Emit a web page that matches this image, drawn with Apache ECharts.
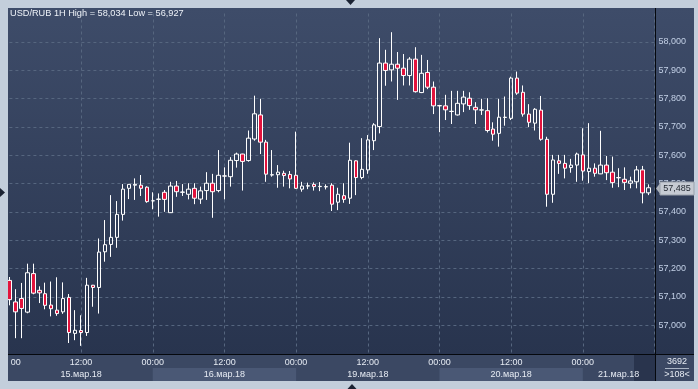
<!DOCTYPE html>
<html>
<head>
<meta charset="utf-8">
<script src="https://cdn.jsdelivr.net/npm/echarts@6/dist/echarts.min.js"></script>
<style>
html,body{margin:0;padding:0;background:#c3cedb;overflow:hidden;}
#c{width:698px;height:389px;}
</style>
</head>
<body>
<div id="c"></div>
<script>
// ---- data ----
const symbolName = 'USD/RUB 1H';
const dayLabels = ['15.мар.18', '16.мар.18', '19.мар.18', '20.мар.18', '21.мар.18'];
const hoursPerDay = [24, 24, 24, 24, 12];
const totalBars = 3692;

const open = [
57.158,57.082,57.094,57.046,57.182,57.123,57.111,57.071,57.053,57.047,
57.098,56.971,56.981,56.974,57.141,57.133,57.259,57.285,57.310,57.391,
57.483,57.494,57.494,57.487,57.439,57.444,57.469,57.397,57.491,57.469,
57.462,57.483,57.445,57.475,57.501,57.475,57.526,57.524,57.581,57.604,
57.581,57.657,57.742,57.646,57.530,57.531,57.536,57.532,57.529,57.480,
57.491,57.497,57.489,57.488,57.494,57.434,57.457,57.448,57.580,57.521,
57.548,57.651,57.701,57.925,57.901,57.921,57.907,57.881,57.939,57.821,
57.892,57.840,57.774,57.774,57.754,57.742,57.781,57.801,57.769,57.759,
57.757,57.692,57.677,57.733,57.730,57.872,57.822,57.745,57.713,57.759,
57.656,57.462,57.580,57.571,57.556,57.565,57.601,57.542,57.554,57.534,
57.565,57.540,57.520,57.515,57.501,57.506,57.548,57.467];
const high = [
57.170,57.127,57.149,57.217,57.217,57.137,57.150,57.154,57.169,57.151,
57.110,57.053,57.035,57.167,57.142,57.306,57.371,57.459,57.438,57.498,
57.498,57.518,57.530,57.490,57.469,57.465,57.477,57.506,57.509,57.498,
57.501,57.501,57.489,57.540,57.534,57.618,57.557,57.593,57.609,57.605,
57.687,57.810,57.799,57.654,57.618,57.565,57.545,57.544,57.683,57.506,
57.503,57.504,57.505,57.497,57.501,57.485,57.501,57.644,57.582,57.660,
57.671,57.713,58.013,57.972,58.034,57.964,57.957,57.946,57.981,57.954,
57.936,57.860,57.776,57.813,57.827,57.827,57.827,57.822,57.787,57.799,
57.801,57.716,57.799,57.807,57.877,57.895,57.846,57.780,57.766,57.809,
57.665,57.601,57.601,57.601,57.587,57.609,57.695,57.713,57.571,57.686,
57.597,57.595,57.554,57.557,57.524,57.562,57.562,57.497];
const low = [
57.070,56.954,56.954,57.042,57.109,57.078,57.056,57.031,57.033,57.040,
56.937,56.947,56.927,56.962,57.065,57.041,57.224,57.241,57.273,57.369,
57.445,57.442,57.456,57.432,57.409,57.383,57.400,57.396,57.453,57.456,
57.444,57.427,57.428,57.442,57.379,57.469,57.444,57.489,57.556,57.475,
57.577,57.651,57.604,57.506,57.524,57.485,57.489,57.483,57.481,57.471,
57.480,57.475,57.473,57.479,57.403,57.406,57.432,57.428,57.459,57.515,
57.534,57.618,57.677,57.845,57.860,57.795,57.846,57.846,57.821,57.819,
57.833,57.745,57.681,57.724,57.710,57.740,57.752,57.760,57.710,57.742,
57.680,57.651,57.630,57.704,57.724,57.813,57.736,57.699,57.687,57.651,
57.418,57.432,57.534,57.518,57.538,57.506,57.510,57.501,57.524,57.533,
57.512,57.485,57.487,57.477,57.483,57.483,57.430,57.459];
const close = [
57.090,57.047,57.059,57.185,57.113,57.114,57.070,57.058,57.041,57.094,
56.974,56.982,56.974,57.141,57.133,57.258,57.284,57.310,57.391,57.480,
57.497,57.497,57.483,57.436,57.439,57.445,57.444,57.491,57.471,57.470,
57.480,57.448,57.474,57.501,57.471,57.529,57.527,57.582,57.604,57.578,
57.660,57.746,57.646,57.533,57.531,57.540,57.528,57.516,57.483,57.491,
57.492,57.489,57.490,57.489,57.427,57.462,57.444,57.582,57.521,57.550,
57.654,57.707,57.925,57.899,57.921,57.907,57.881,57.939,57.824,57.889,
57.840,57.774,57.775,57.760,57.755,57.783,57.805,57.775,57.760,57.760,
57.687,57.674,57.734,57.734,57.872,57.819,57.745,57.716,57.762,57.656,
57.462,57.583,57.571,57.554,57.565,57.604,57.544,57.554,57.536,57.565,
57.538,57.503,57.521,57.504,57.509,57.548,57.467,57.485];

// ---- helpers ----
const FONT = '"Liberation Sans", Arial, sans-serif';
const fmt = v => v.toFixed(3).replace('.', ',');
const categories = [];
dayLabels.forEach((d, di) => {
  for (let h = 0; h < hoursPerDay[di]; h++) categories.push(d + '|' + String(h).padStart(2, '0') + ':00');
});
categories.push('');
const ohlc = open.map((o, i) => [o, close[i], low[i], high[i]]);
const lastClose = close[close.length - 1];
const titleText = `${symbolName} High = ${fmt(Math.max(...high))} Low = ${fmt(Math.min(...low))}`;

const gridLine = { color: '#56667f', type: [3, 3], width: 1 };

const chart = echarts.init(document.getElementById('c'), null, { renderer: 'canvas' });
chart.setOption({
  animation: false,
  backgroundColor: 'transparent',
  title: {
    text: titleText, left: 10, top: 9, padding: 0,
    textStyle: { color: '#eef2f8', fontSize: 9.2, fontWeight: 'normal', fontFamily: FONT }
  },
  grid: { left: 9.4, right: 43.5, top: 13.5, bottom: 35.5, containLabel: false, outerBoundsMode: 'none' },
  xAxis: {
    type: 'category', data: categories, boundaryGap: false,
    axisLine: { show: false }, axisTick: { show: false },
    axisLabel: {
      interval: (i) => i % 12 === 0 && categories[i] !== '',
      formatter: (v) => v.split('|')[1],
      color: '#e6ebf3', fontSize: 9, lineHeight: 12, margin: 3, fontFamily: FONT
    },
    splitLine: { show: true, interval: (i) => i > 0 && i % 12 === 0, lineStyle: gridLine }
  },
  yAxis: {
    type: 'value', position: 'right', min: 56.9, max: 58.1, interval: 0.1,
    axisLine: { show: false }, axisTick: { show: false },
    axisLabel: {
      color: '#c3d0e6', fontSize: 9, margin: 4, fontFamily: FONT,
      formatter: (v) => (v < 56.95 || v > 58.05) ? '' : fmt(v)
    },
    splitLine: { show: true, showMinLine: false, showMaxLine: false, lineStyle: gridLine }
  },
  series: [{
    type: 'candlestick', data: ohlc, barWidth: 4,
    itemStyle: {
      color: 'rgba(0,0,0,0)', color0: '#e2133d',
      borderColor: '#ffffff', borderColor0: '#ffffff', borderColorDoji: '#ffffff', borderWidth: 1
    }
  }]
});

// ---- chrome (backgrounds, separators, day labels, price tag) ----
const px = i => chart.convertToPixel({ xAxisIndex: 0 }, i);
const py = v => chart.convertToPixel({ yAxisIndex: 0 }, v);
const FRAME = '#c3cedb';
const BOTTOM = '#3b4863';
const PLOT_L = 8, PLOT_R = 655;
const g = [];
g.push({ type: 'rect', z: -10, silent: true, shape: { x: 8, y: 8, width: 686, height: 347 },
  style: { fill: new echarts.graphic.LinearGradient(0, 0, 0, 1, [{ offset: 0, color: '#3e4c69' }, { offset: 1, color: '#28344e' }]) } });
g.push({ type: 'rect', z: -10, silent: true, shape: { x: 8, y: 355, width: 686, height: 26 }, style: { fill: BOTTOM } });
g.push({ type: 'rect', z: -9, silent: true, shape: { x: 634, y: 355, width: 21, height: 26 }, style: { fill: '#29344d' } });
let start = 0;
dayLabels.forEach((d, di) => {
  const end = start + hoursPerDay[di];
  const x0 = Math.max(PLOT_L, px(start));
  const x1 = Math.min(PLOT_R, px(end));
  if (di % 2 === 1) {
    g.push({ type: 'rect', z: -9, silent: true, shape: { x: x0, y: 368, width: x1 - x0, height: 13 }, style: { fill: '#4a5875' } });
  }
  g.push({ type: 'text', z: 5, silent: true, style: { text: d, x: (x0 + x1) / 2, y: 374.5, align: 'center', verticalAlign: 'middle', fill: '#e6ebf3', font: '9px ' + FONT } });
  start = end;
});
g.push({ type: 'line', z: 5, silent: true, shape: { x1: 655.5, y1: 8, x2: 655.5, y2: 381 }, style: { stroke: '#05080d', lineWidth: 1 } });
g.push({ type: 'line', z: 5, silent: true, shape: { x1: 8, y1: 354.5, x2: 694, y2: 354.5 }, style: { stroke: '#05080d', lineWidth: 1 } });
g.push({ type: 'rect', z: 50, silent: true, shape: { x: 8, y: 355.5, width: 2.5, height: 12 }, style: { fill: BOTTOM } });
g.push({ type: 'rect', z: 60, silent: true, shape: { x: 0, y: 0, width: 8, height: 389 }, style: { fill: FRAME } });
g.push({ type: 'text', z: 5, silent: true, style: { text: String(totalBars), x: 677, y: 362, align: 'center', verticalAlign: 'middle', fill: '#e6ebf3', font: '9px ' + FONT } });
g.push({ type: 'line', z: 5, silent: true, shape: { x1: 665, y1: 368.5, x2: 689, y2: 368.5 }, style: { stroke: '#aab4c4', lineWidth: 1 } });
g.push({ type: 'text', z: 5, silent: true, style: { text: '>' + open.length + '<', x: 677, y: 374.5, align: 'center', verticalAlign: 'middle', fill: '#e6ebf3', font: '9px ' + FONT } });
// last price tag
const ly = Math.round(py(lastClose)) + 0.5;
g.push({ type: 'polygon', z: 20, silent: true, shape: { points: [[656, ly], [661, ly - 6.5], [661, ly + 6.5]] }, style: { fill: '#aeb4bd' } });
g.push({ type: 'rect', z: 20, silent: true, shape: { x: 660, y: ly - 6.5, width: 34, height: 13 }, style: { fill: '#c6cbd3', stroke: '#9aa1ab', lineWidth: 1 } });
g.push({ type: 'text', z: 21, silent: true, style: { text: fmt(lastClose), x: 677, y: ly, align: 'center', verticalAlign: 'middle', fill: '#222831', font: '9px ' + FONT } });
// frame arrows
g.push({ type: 'polygon', z: 61, silent: true, shape: { points: [[346, 0], [355, 0], [350.5, 5]] }, style: { fill: '#1b2333' } });
g.push({ type: 'polygon', z: 61, silent: true, shape: { points: [[0, 188], [0, 197], [5, 192.5]] }, style: { fill: '#1b2333' } });
g.push({ type: 'polygon', z: 61, silent: true, shape: { points: [[347.5, 389], [356.5, 389], [352, 384]] }, style: { fill: '#1b2333' } });
chart.setOption({ graphic: g });
</script>
</body>
</html>
